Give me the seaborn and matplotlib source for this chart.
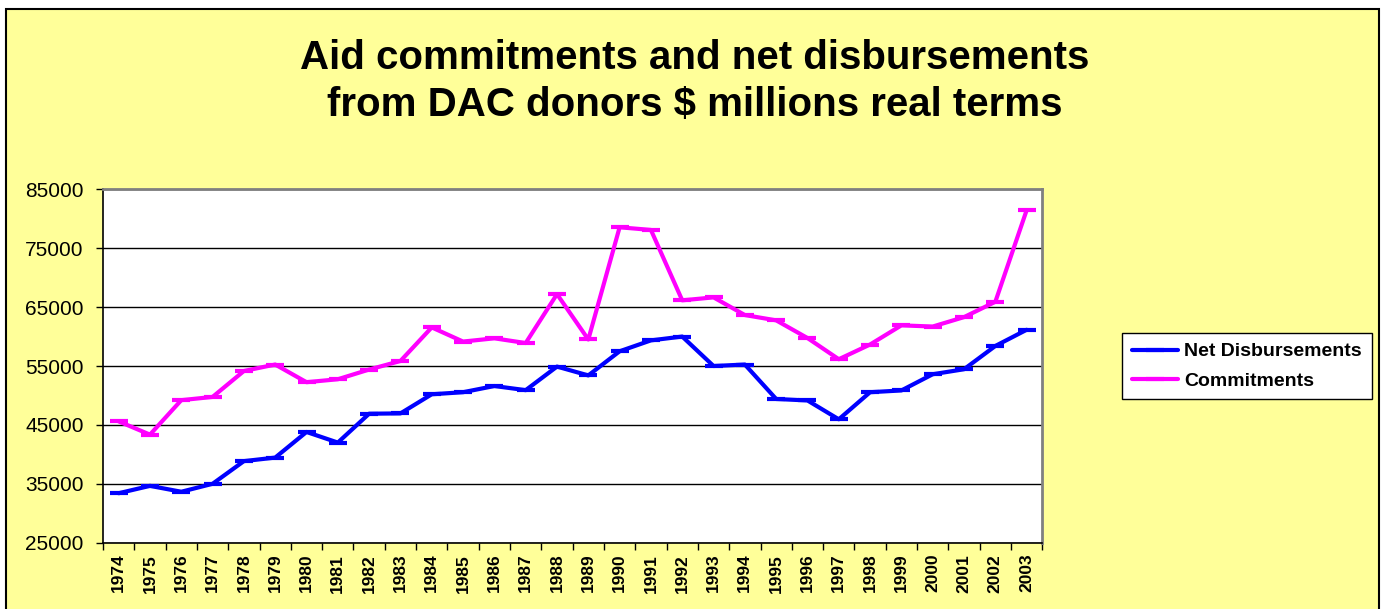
import matplotlib
matplotlib.use("Agg")
import matplotlib.pyplot as plt
import seaborn as sns
import pandas as pd
import numpy as np
from matplotlib.patches import Rectangle

years = [str(y) for y in range(1974, 2004)]
net_disbursements = [33400, 34650, 33650, 35000, 38850, 39450, 43800, 42000, 46900, 46950,
                     50200, 50550, 51600, 50900, 54900, 53400, 57500, 59350, 60000, 55000,
                     55250, 49400, 49150, 45950, 50550, 50850, 53600, 54450, 58400, 61150]
commitments = [45600, 43350, 49200, 49750, 54150, 55250, 52250, 52750, 54400, 55850,
               61550, 59150, 59700, 58900, 67200, 59500, 78550, 78100, 66150, 66650,
               63650, 62750, 59750, 56150, 58650, 61900, 61700, 63300, 65900, 81450]
series_names = ["Net Disbursements", "Commitments"]
series_colors = ["#0000FF", "#FF00FF"]
yticks = [25000, 35000, 45000, 55000, 65000, 75000, 85000]
title_lines = ["Aid commitments and net disbursements", "from DAC donors $ millions real terms"]

df = pd.DataFrame({
    "idx": list(range(len(years))) * 2,
    "value": net_disbursements + commitments,
    "series": [series_names[0]] * len(years) + [series_names[1]] * len(years),
})

sns.set_theme(style="white")
plt.rcParams["font.family"] = ["Liberation Sans", "DejaVu Sans"]
plt.rcParams["text.color"] = "black"
plt.rcParams["xtick.color"] = "black"
plt.rcParams["ytick.color"] = "black"
plt.rcParams["xtick.labelcolor"] = "black"
plt.rcParams["ytick.labelcolor"] = "black"

W, H = 1383, 609
fig = plt.figure(figsize=(W / 100, H / 100), dpi=100, facecolor="white")
bg = Rectangle((6 / W, -0.02), (1379 - 6) / W, 1 - 9 / H + 0.02, transform=fig.transFigure,
               facecolor="#FFFF99", edgecolor="black", lw=1.5, zorder=-10)
fig.patches.append(bg)

ax = fig.add_axes([103 / W, 1 - 542.7 / H, (1042.3 - 103) / W, (542.7 - 189.3) / H])
ax.set_facecolor("white")

for name, col in zip(series_names, series_colors):
    sns.lineplot(data=df[df["series"] == name], x="idx", y="value", ax=ax, color=col,
                 lw=3, marker="_", markersize=13, markeredgewidth=3, markeredgecolor=col,
                 label=name, legend=False)

ax.set_ylim(25000, 85000)
ax.set_yticks(yticks)
ax.set_yticklabels([str(v) for v in yticks], fontsize=15, color="black")
ax.set_xlim(-0.5, len(years) - 0.5)
ax.set_xticks(range(len(years)))
ax.set_xticklabels(years, rotation=90, fontsize=12.5, fontweight="bold", color="black")
ax.set_xticks(np.arange(-0.5, len(years), 1.0), minor=True)
ax.tick_params(axis="x", which="major", length=0, pad=8)
ax.tick_params(axis="x", which="minor", length=5, width=1, color="black", direction="out", bottom=True)
ax.tick_params(axis="y", length=5, width=1, color="black", direction="out", left=True, pad=9)
ax.set_xlabel("")
ax.set_ylabel("")
ax.grid(axis="y", color="black", lw=1)
ax.grid(axis="x", visible=False)
for s in ["left", "bottom"]:
    ax.spines[s].set_color("black")
    ax.spines[s].set_linewidth(1.2)
for s in ["top", "right"]:
    ax.spines[s].set_color("#808080")
    ax.spines[s].set_linewidth(2)

handles, labels = ax.get_legend_handles_labels()
leg = fig.legend(handles, labels, loc="upper left", bbox_to_anchor=(1122 / W, 1 - 333 / H),
                 prop={"size": 14, "weight": "bold"}, frameon=True, fancybox=False,
                 edgecolor="black", facecolor="white", framealpha=1, handlelength=2.4,
                 borderpad=0.5, labelspacing=0.6, handletextpad=0.3, borderaxespad=0)
leg.get_frame().set_linewidth(1)
for t in leg.get_texts():
    t.set_color("black")

fig.text(695 / W, 1 - 58 / H, title_lines[0], ha="center", va="center", fontsize=29,
         fontweight="bold", color="black")
fig.text(695 / W, 1 - 105 / H, title_lines[1], ha="center", va="center", fontsize=29,
         fontweight="bold", color="black")

fig.savefig("out.png", dpi=100, facecolor="white")
